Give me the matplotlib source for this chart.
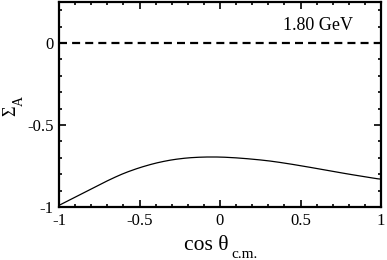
import matplotlib
matplotlib.use('Agg')
import matplotlib.pyplot as plt
import numpy as np
from matplotlib.ticker import MultipleLocator

plt.rcParams['font.family'] = ['Liberation Serif', 'DejaVu Serif']

# values
cos_theta = [-1.0, -0.9, -0.8, -0.7, -0.6, -0.5, -0.4, -0.3, -0.2, -0.1,
             0.0, 0.1, 0.2, 0.3, 0.4, 0.5, 0.6, 0.7, 0.8, 0.9, 1.0]
sigma_a = [-0.99, -0.94, -0.89, -0.84, -0.795, -0.76, -0.732, -0.712, -0.700, -0.695,
           -0.695, -0.700, -0.708, -0.718, -0.732, -0.748, -0.765, -0.782, -0.800, -0.815, -0.832]
energy_label = '1.80 GeV'

W, H = 387, 260
fig = plt.figure(figsize=(W / 100, H / 100), dpi=100)
ax = fig.add_axes([59 / W, 1 - 207 / H, 322 / W, 205 / H])

# smooth the few read points for drawing
xs = np.linspace(-1, 1, 201)
ys = np.interp(xs, cos_theta, sigma_a)
k = np.ones(9) / 9
ys_s = np.convolve(np.pad(ys, 4, mode='edge'), k, mode='valid')
ys_s[:3] = ys[:3]
ax.plot(xs, ys_s, color='black', lw=0.9)
ax.axhline(0, color='black', lw=1.6, dashes=(3.6, 2.3))

ax.set_xlim(-1, 1)
ax.set_ylim(-1, 0.25)
ax.xaxis.set_minor_locator(MultipleLocator(0.1))
ax.yaxis.set_minor_locator(MultipleLocator(0.1))
ax.set_xticks([-1, -0.5, 0, 0.5, 1])
ax.set_xticklabels(['-1', '-0.5', '0', '0.5', '1'])
ax.set_yticks([-1, -0.5, 0])
ax.set_yticklabels(['-1', '-0.5', '0'])
ax.tick_params(which='both', direction='in', top=True, right=True, labelsize=12, width=1.2)
ax.tick_params(which='major', length=5, pad=4)
ax.tick_params(which='minor', length=2.5)
for s in ax.spines.values():
    s.set_linewidth(1.6)

ax.text(353 / 322 - 59 / 322, (1 - 25 / H - (1 - 207 / H)) / (205 / H), energy_label,
        transform=ax.transAxes, ha='right', va='center', fontsize=13)

# axis titles, placed as separate pieces to get the subscripts right
fig.text(184 / W, 1 - 250 / H, 'cos θ', fontsize=15.5, ha='left', va='baseline')
fig.text(231 / W, 1 - 258 / H, 'c.m.', fontsize=11, ha='left', va='baseline')
fig.text(15 / W, 1 - 116 / H, 'Σ', fontsize=13, rotation=90, rotation_mode='anchor',
         ha='left', va='baseline')
fig.text(23 / W, 1 - 106 / H, 'A', fontsize=10, rotation=90, rotation_mode='anchor',
         ha='left', va='baseline')

fig.savefig('out.png', dpi=100)
